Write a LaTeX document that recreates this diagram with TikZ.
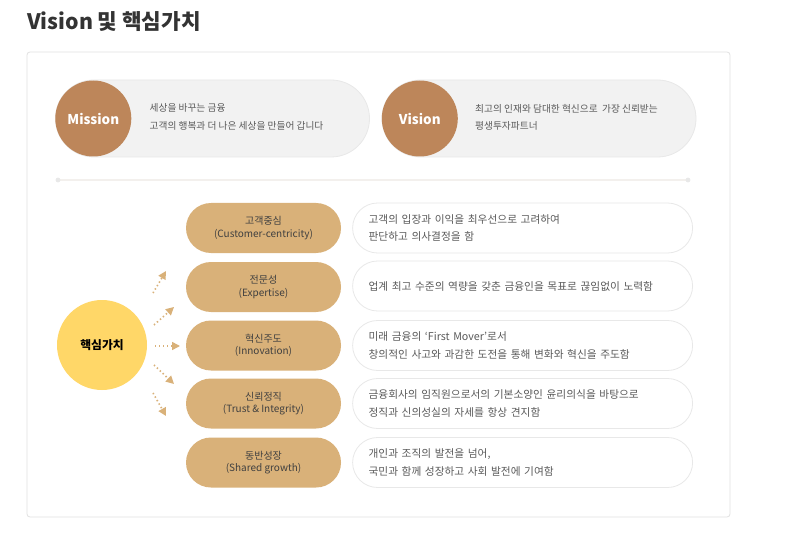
\documentclass[tikz,border=0pt]{standalone}
\usepackage{fontspec}
\setmainfont{Noto Sans CJK KR}
\usetikzlibrary{positioning,arrows.meta}

\definecolor{titlegray}{RGB}{51,51,51}
\definecolor{textgray}{RGB}{90,90,90}
\definecolor{panelline}{RGB}{226,226,226}
\definecolor{pillgray}{RGB}{242,242,242}
\definecolor{pillline}{RGB}{232,232,232}
\definecolor{missionbrown}{RGB}{189,134,90}
\definecolor{valuetan}{RGB}{217,177,121}
\definecolor{coreyellow}{RGB}{255,215,104}
\definecolor{sepline}{RGB}{243,240,237}

\tikzset{
	topbox/.style={draw=pillline, line width=0.8pt, fill=pillgray, rounded corners=38.5pt, minimum width=314pt, minimum height=77pt},
	topcircle/.style={circle, fill=missionbrown, minimum size=76pt, inner sep=0pt, text=white, font=\fontsize{13.5}{16}\selectfont\bfseries},
	toptext/.style={inner sep=0pt, align=left, text=textgray, font=\fontsize{9.7}{17.5}\selectfont},
	valuebox/.style={fill=valuetan, rounded corners=25pt, minimum width=155pt, minimum height=50pt, align=center, text=black!75, font=\fontsize{10}{12.5}\selectfont},
	descbox/.style={draw=pillline, line width=0.8pt, fill=white, rounded corners=25pt, minimum height=50pt, text width=308pt, inner xsep=16pt, align=left, text=textgray, font=\fontsize{10.7}{17.5}\selectfont},
	valuearrow/.style={draw=valuetan, line width=1.6pt, dash pattern=on 1.4pt off 2.6pt, -{Triangle[length=8pt, width=8pt]}}
}

\begin{document}
\begin{tikzpicture}[x=1pt, y=-1pt]
	\useasboundingbox [fill=white] (0,0) rectangle (800,548);
	\node (title) [anchor=base west, inner sep=0pt, text=titlegray, font=\fontsize{21.3}{24}\selectfont\bfseries] at (27,30) {Vision 및 핵심가치};
	\draw [panelline, line width=0.8pt, rounded corners=3pt] (27,52) rectangle (730,517);

	% mission and vision
	\node (missionbox) [topbox] at (212.5,118.5) {};
	\node (mission) [topcircle, anchor=west] at (missionbox.west) {Mission};
	\node (missiontext) [toptext, right=18pt of mission, yshift=1.5pt] {세상을 바꾸는 금융\\고객의 행복과 더 나은 세상을 만들어 갑니다};
	\node (visionbox) [topbox] at (539,118.5) {};
	\node (vision) [topcircle, anchor=west] at (visionbox.west) {Vision};
	\node (visiontext) [toptext, right=17pt of vision, yshift=1pt] {최고의 인재와 담대한 혁신으로~ 가장 신뢰받는\\평생투자파트너};

	% separator
	\coordinate (sepleft) at (58,180);
	\coordinate (sepright) at (688,180);
	\draw [sepline, line width=1.6pt] (sepleft) -- (sepright);
	\fill [black!9] (sepleft) circle (2.4pt) (sepright) circle (2.4pt);

	% core values
	\node (core) [circle, fill=coreyellow, minimum size=90pt, inner sep=0pt, font=\fontsize{11.8}{14}\selectfont\bfseries] at (102,345) {핵심가치};
	\node (value1) [valuebox] at (263.5,228) {고객중심\\(Customer-centricity)};
	\node (value2) [valuebox] at (263.5,287) {전문성\\(Expertise)};
	\node (value3) [valuebox] at (263.5,345.5) {혁신주도\\(Innovation)};
	\node (value4) [valuebox] at (263.5,403.5) {신뢰정직\\(Trust \& Integrity)};
	\node (value5) [valuebox] at (263.5,462.5) {동반성장\\(Shared growth)};
	\node (desc1) [descbox, right=11pt of value1] {고객의 입장과 이익을 최우선으로 고려하여\\판단하고 의사결정을 함};
	\node (desc2) [descbox, right=11pt of value2, yshift=1pt] {업계 최고 수준의 역량을 갖춘 금융인을 목표로 끊임없이 노력함};
	\node (desc3) [descbox, right=11pt of value3] {미래 금융의 ‘First Mover’로서\\창의적인 사고와 과감한 도전을 통해 변화와 혁신을 주도함};
	\node (desc4) [descbox, right=11pt of value4] {금융회사의 임직원으로서의 기본소양인 윤리의식을 바탕으로\\정직과 신의성실의 자세를 항상 견지함};
	\node (desc5) [descbox, right=11pt of value5] {개인과 조직의 발전을 넘어,\\국민과 함께 성장하고 사회 발전에 기여함};

	% arrows
	\coordinate (from1) at (153,293); \coordinate (to1) at (166,271);
	\coordinate (from2) at (154,325); \coordinate (to2) at (174,307);
	\coordinate (from3) at (155,346); \coordinate (to3) at (180,346);
	\coordinate (from4) at (154,365); \coordinate (to4) at (174,384);
	\coordinate (from5) at (153,393); \coordinate (to5) at (166,416);
	\draw [valuearrow] (from1) -- (to1);
	\draw [valuearrow] (from2) -- (to2);
	\draw [valuearrow] (from3) -- (to3);
	\draw [valuearrow] (from4) -- (to4);
	\draw [valuearrow] (from5) -- (to5);
\end{tikzpicture}
\end{document}
